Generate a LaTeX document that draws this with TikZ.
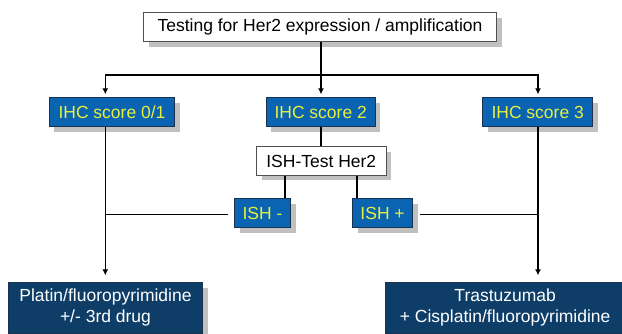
\documentclass[tikz,border=0pt]{standalone}
\usepackage{fontspec}
\setmainfont{Liberation Sans}
\usetikzlibrary{arrows.meta,shadows}
\definecolor{ihcblue}{RGB}{10,100,178}
\definecolor{ihcborder}{RGB}{25,50,80}
\definecolor{ihctext}{RGB}{232,240,60}
\definecolor{navy}{RGB}{14,62,104}
\definecolor{shadowgray}{RGB}{192,192,192}
\definecolor{boxborder}{RGB}{80,80,80}
\begin{document}
\begin{tikzpicture}[x=1pt,y=-1pt,
  every node/.style={font=\fontsize{17.5}{21}\selectfont, inner sep=0pt, align=center},
  shad/.style={drop shadow={shadow xshift=5pt, shadow yshift=-5pt, fill=shadowgray, opacity=1}},
  whitebox/.style={shad, draw=boxborder, line width=0.8pt, fill=white, text=black},
  bluebox/.style={shad, draw=ihcborder, line width=0.8pt, fill=ihcblue, text=ihctext},
  navybox/.style={shad, draw=ihcborder, line width=0.8pt, fill=navy, text=white},
  conn/.style={draw=black, line width=1.4pt},
  arr/.style={conn, -{Latex[length=6pt,width=6pt]}}
]
\useasboundingbox (0,0) rectangle (622,333);
\clip (0,0) rectangle (622,333);
\fill[white] (0,0) rectangle (622,333);

\node[whitebox, minimum width=353pt, minimum height=29pt] (top) at (320,27.2) {Testing for Her2 expression / amplification};

\node[bluebox, minimum width=125.4pt, minimum height=29pt] (ihc1) at (112,112.2) {IHC score 0/1};
\node[bluebox, minimum width=109.3pt, minimum height=29pt] (ihc2) at (320.7,112.2) {IHC score 2};
\node[bluebox, minimum width=110pt, minimum height=29pt] (ihc3) at (537.7,112.2) {IHC score 3};

\node[whitebox, minimum width=129.3pt, minimum height=28.6pt] (isht) at (321.3,161) {ISH-Test Her2};

\node[bluebox, minimum width=56pt, minimum height=29pt] (ishm) at (262.5,213) {ISH -};
\node[bluebox, minimum width=60.2pt, minimum height=29pt] (ishp) at (382.6,213) {ISH +};

\node[navybox, minimum width=194.4pt, minimum height=50.3pt] (bl) at (105.5,307.9) {Platin/fluoropyrimidine\\+/- 3rd drug};
\node[navybox, minimum width=240pt, minimum height=50.3pt] (br) at (505.2,307.9) {Trastuzumab\\+ Cisplatin/fluoropyrimidine};

\coordinate (J) at (321,75);
\coordinate (L) at (105.3,75);
\coordinate (R) at (538,75);
\coordinate (lm) at (285,0);
\coordinate (lp) at (357,0);

% top distribution
\draw[arr, shorten >=3pt] (top.south -| J) -- (ihc2.north -| J);
\draw[arr, shorten >=3pt] (L) -- (R) -- (ihc3.north -| R);
\draw[arr, shorten >=3pt] (L) -- (ihc1.north -| L);

% IHC2 to ISH test
\draw[conn] (ihc2.south -| J) -- (isht.north -| J);
\draw[conn] (isht.south -| lm) -- (ishm.north -| lm);
\draw[conn] (isht.south -| lp) -- (ishp.north -| lp);

% left branch
\draw[arr, shorten >=7pt] (ihc1.south -| L) -- (bl.north -| L);
\draw[conn] ([xshift=-6pt,yshift=-1.3pt]ishm.west) -- ([yshift=-1.3pt]ishm.west -| L);

% right branch
\draw[arr, shorten >=7pt] (ihc3.south -| R) -- (br.north -| R);
\draw[conn] ([xshift=7pt,yshift=-1.3pt]ishp.east) -- ([yshift=-1.3pt]ishp.east -| R);
\end{tikzpicture}
\end{document}
